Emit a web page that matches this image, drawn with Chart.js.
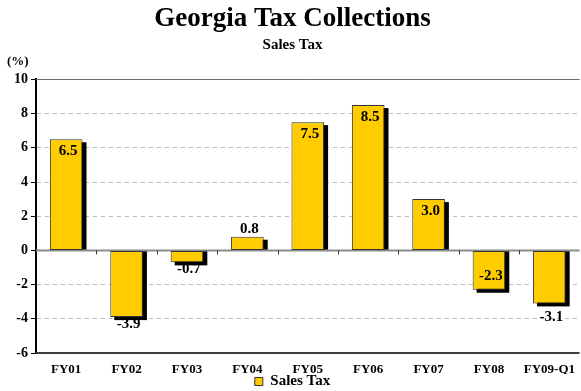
<!DOCTYPE html>
<html>
<head>
<meta charset="utf-8">
<script src="https://cdn.jsdelivr.net/npm/chart.js@4/dist/chart.umd.min.js"></script>
<style>
  html, body { margin: 0; padding: 0; overflow: hidden; background: #fff; }
  #wrap { width: 585px; height: 391px; position: relative; }
</style>
</head>
<body>
<div id="wrap"><canvas id="c"></canvas></div>
<script>
const categories = ['FY01', 'FY02', 'FY03', 'FY04', 'FY05', 'FY06', 'FY07', 'FY08', 'FY09-Q1'];
const salesTax = [6.5, -3.9, -0.7, 0.8, 7.5, 8.5, 3.0, -2.3, -3.1];
const labelPlacement = ['in', 'out', 'out', 'out', 'in', 'in', 'in', 'in', 'far'];
const yTicks = [-6, -4, -2, 0, 2, 4, 6, 8, 10];

const SERIF = '"Liberation Serif", "Times New Roman", serif';

const legendSizePlugin = {
  id: 'legendSize',
  beforeLayout(chart) {
    const lg = chart.legend;
    if (lg && !lg._patched) {
      const orig = lg.fit.bind(lg);
      lg.fit = function () { orig(); this.height = 17; };
      lg._patched = true;
    }
  }
};

const shadowPlugin = {
  id: 'shadow',
  beforeDatasetsDraw(chart) {
    const ctx = chart.ctx;
    const meta = chart.getDatasetMeta(0);
    ctx.save();
    ctx.fillStyle = '#000';
    meta.data.forEach(bar => {
      const left = bar.x - bar.width / 2 + 4;
      let top, bottom;
      if (bar.y <= bar.base) { top = bar.y + 3; bottom = bar.base; }
      else { top = bar.base; bottom = bar.y + 3; }
      ctx.fillRect(left, top, bar.width, bottom - top);
    });
    ctx.restore();
  }
};

const framePlugin = {
  id: 'frame',
  beforeDatasetsDraw(chart) {
    const ctx = chart.ctx;
    const a = chart.chartArea;
    const y = chart.scales.y;
    const x = chart.scales.x;
    ctx.save();
    ctx.strokeStyle = '#6a6a6a';
    ctx.lineWidth = 1;
    ctx.beginPath();
    ctx.moveTo(a.left, Math.round(y.getPixelForValue(10)) + 0.5);
    ctx.lineTo(a.right, Math.round(y.getPixelForValue(10)) + 0.5);
    ctx.stroke();
    ctx.strokeStyle = '#404040';
    ctx.lineWidth = 2;
    ctx.beginPath();
    ctx.moveTo(a.left, y.getPixelForValue(-6));
    ctx.lineTo(a.right, y.getPixelForValue(-6));
    ctx.stroke();
    const z = y.getPixelForValue(0);
    ctx.strokeStyle = '#8c8c8c';
    ctx.lineWidth = 2;
    ctx.beginPath();
    ctx.moveTo(a.left, z);
    ctx.lineTo(a.right, z);
    ctx.stroke();
    ctx.strokeStyle = '#303030';
    ctx.lineWidth = 1;
    for (let i = 1; i < categories.length; i++) {
      const px = Math.round((x.getPixelForValue(i - 1) + x.getPixelForValue(i)) / 2) + 0.5;
      ctx.beginPath();
      ctx.moveTo(px, z);
      ctx.lineTo(px, z + 4);
      ctx.stroke();
    }
    ctx.restore();
  },
  afterDraw(chart) {
    const ctx = chart.ctx;
    ctx.save();
    ctx.font = 'bold 13px ' + SERIF;
    ctx.fillStyle = '#000';
    ctx.textAlign = 'left';
    ctx.textBaseline = 'middle';
    ctx.fillText('(%)', 7, 62);
    ctx.restore();
  }
};

const labelPlugin = {
  id: 'labels',
  afterDatasetsDraw(chart) {
    const ctx = chart.ctx;
    const meta = chart.getDatasetMeta(0);
    ctx.save();
    ctx.font = 'bold 15px ' + SERIF;
    ctx.fillStyle = '#000';
    ctx.textAlign = 'center';
    ctx.textBaseline = 'middle';
    meta.data.forEach((bar, i) => {
      const v = salesTax[i];
      const pos = labelPlacement[i];
      let ty;
      if (v >= 0) {
        ty = pos === 'in' ? bar.y + 12 : bar.y - 8;
      } else {
        ty = pos === 'in' ? bar.y - 14 : (pos === 'far' ? bar.y + 14 : bar.y + 7);
      }
      ctx.fillText(v.toFixed(1), bar.x + 2, ty);
    });
    ctx.restore();
  }
};

new Chart(document.getElementById('c'), {
  type: 'bar',
  data: {
    labels: categories,
    datasets: [{
      label: 'Sales Tax',
      data: salesTax,
      backgroundColor: '#FFCC00',
      borderColor: '#333333',
      borderWidth: 1,
      borderSkipped: false,
      barPercentage: 0.54,
      categoryPercentage: 1.0
    }]
  },
  options: {
    responsive: true,
    maintainAspectRatio: false,
    animation: false,
    layout: { padding: { left: 0, right: 0, top: 0, bottom: 0 } },
    plugins: {
      title: {
        display: true,
        text: 'Georgia Tax Collections',
        color: '#000',
        font: { family: SERIF, size: 27, weight: 'bold' },
        padding: { top: 3, bottom: 1 }
      },
      subtitle: {
        display: true,
        text: 'Sales Tax',
        color: '#000',
        font: { family: SERIF, size: 15, weight: 'bold' },
        padding: { top: 0, bottom: 25 }
      },
      legend: {
        display: true,
        position: 'bottom',
        labels: {
          color: '#000',
          font: { family: SERIF, size: 15, weight: 'bold' },
          boxWidth: 8,
          boxHeight: 8,
          padding: 0
        }
      },
      tooltip: { enabled: false }
    },
    scales: {
      x: {
        afterFit(scale) { scale.height = 21; },
        grid: { display: false, drawTicks: false },
        border: { display: false },
        ticks: {
          color: '#000',
          font: { family: SERIF, size: 13, weight: 'bold', lineHeight: 1 },
          padding: 10,
          maxRotation: 0,
          autoSkip: false
        }
      },
      y: {
        min: -6,
        max: 10,
        afterBuildTicks(scale) { scale.ticks = yTicks.map(v => ({ value: v })); },
        afterFit(scale) { scale.width = 36; },
        grid: {
          color: ctx => (ctx.tick && (ctx.tick.value === 0 || ctx.tick.value === -6 || ctx.tick.value === 10)) ? 'rgba(0,0,0,0)' : '#bdbdbd',
          lineWidth: 1,
          drawTicks: true,
          tickLength: 5,
          tickColor: '#000',
          tickBorderDash: []
        },
        border: { display: true, color: '#000', width: 2, dash: [4, 4] },
        ticks: {
          color: '#000',
          font: { family: SERIF, size: 14, weight: 'bold' },
          padding: 3,
          callback: v => String(v)
        }
      }
    }
  },
  plugins: [legendSizePlugin, shadowPlugin, framePlugin, labelPlugin]
});
</script>
</body>
</html>
